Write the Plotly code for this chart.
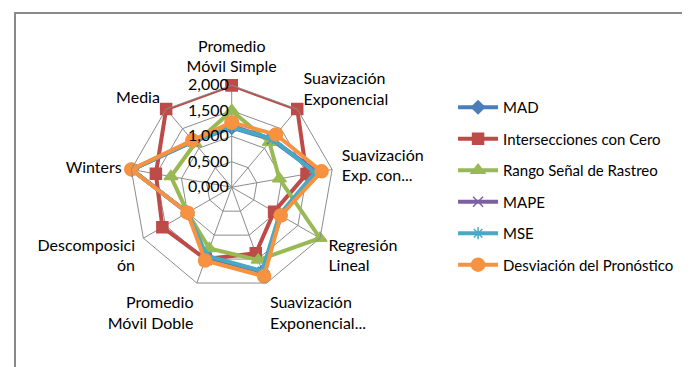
import plotly.graph_objects as go

categories = [
    "Promedio<br>Móvil Simple",
    "Suavización<br>Exponencial",
    "Suavización<br>Exp. con...",
    "Regresión<br>Lineal",
    "Suavización<br>Exponencial...",
    "Promedio<br>Móvil Doble",
    "Descomposici<br>ón",
    "Winters",
    "Media",
]

mad = [1.17, 1.22, 1.68, 1.10, 1.76, 1.45, 1.00, 1.99, 1.17]
intersecciones = [2.00, 2.00, 1.49, 0.96, 1.38, 1.50, 1.57, 1.51, 2.00]
rango_senal = [1.50, 1.15, 0.95, 2.00, 1.52, 1.28, 1.00, 1.21, 1.12]
mape = [1.20, 1.23, 1.70, 1.12, 1.77, 1.46, 1.00, 1.99, 1.18]
mse = [1.18, 1.24, 1.66, 1.08, 1.75, 1.43, 1.00, 1.99, 1.18]
desviacion = [1.27, 1.35, 1.79, 1.11, 1.86, 1.53, 1.00, 2.00, 1.20]

radial_ticks = [0, 0.5, 1.0, 1.5, 2.0]

series = [
    ("MAD", mad, "#4A7EBB", "diamond", 10),
    ("Intersecciones con Cero", intersecciones, "#BE4B48", "square", 11),
    ("Rango Señal de Rastreo", rango_senal, "#98B954", "triangle-up", 12),
    ("MAPE", mape, "#7D60A0", "x-thin-open", 10),
    ("MSE", mse, "#46AAC5", "asterisk-open", 10),
    ("Desviación del Pronóstico", desviacion, "#F69240", "circle", 13),
]

fig = go.Figure()

for i, (name, values, color, symbol, size) in enumerate(series):
    fig.add_trace(
        go.Scatterpolar(
            r=values + values[:1],
            theta=categories + categories[:1],
            mode="lines+markers",
            name=name,
            legendgroup=f"g{i}",
            line=dict(color=color, width=4),
            marker=dict(
                symbol=symbol,
                size=size,
                color=color,
                line=dict(color=color, width=1.5),
            ),
        )
    )

grid = "#8C8C8C"

fig.update_layout(
    width=690,
    height=367,
    margin=dict(l=0, r=0, t=0, b=0),
    paper_bgcolor="white",
    plot_bgcolor="white",
    separators=",.",
    font=dict(family="Lato, Carlito, 'Liberation Sans', sans-serif", size=16, color="#000000"),
    polar=dict(
        domain=dict(x=[0.1764, 0.4720], y=[0.2338, 0.7896]),
        gridshape="linear",
        bgcolor="white",
        radialaxis=dict(
            range=[0, 2.0],
            tickvals=radial_ticks,
            tickformat=".3f",
            ticksuffix="\u2003",
            angle=90,
            tickangle=90,
            side="counterclockwise",
            showline=False,
            gridcolor=grid,
            gridwidth=1,
            ticks="",
            tickfont=dict(size=16),
        ),
        angularaxis=dict(
            direction="clockwise",
            rotation=90,
            gridcolor=grid,
            linecolor=grid,
            linewidth=1,
            ticks="outside",
            ticklen=6,
            tickcolor="rgba(0,0,0,0)",
            tickfont=dict(size=16),
        ),
    ),
    legend=dict(
        x=0.645,
        y=0.774,
        xanchor="left",
        yanchor="top",
        font=dict(size=15),
        itemwidth=40,
        tracegroupgap=9,
        bgcolor="rgba(0,0,0,0)",
    ),
    shapes=[
        dict(
            type="rect",
            xref="paper",
            yref="paper",
            x0=7 / 690,
            x1=1.05,
            y0=-0.05,
            y1=1 - 5 / 367,
            line=dict(color="#8A8A8A", width=2),
        )
    ],
)

fig.write_html("out.html")
